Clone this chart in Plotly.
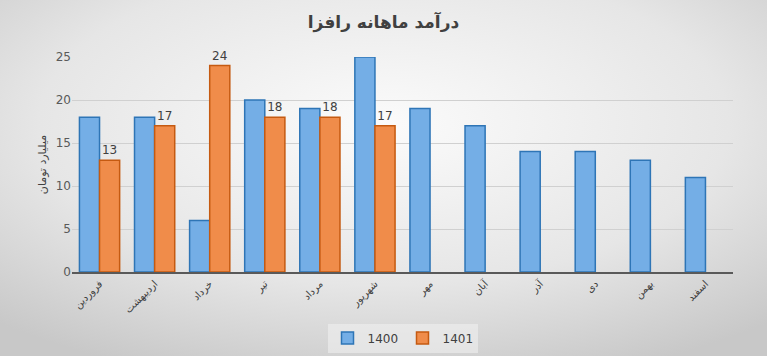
import base64
import plotly.graph_objects as go

months = ["فروردین", "اردیبهشت", "خرداد", "تیر", "مرداد", "شهریور",
          "مهر", "آبان", "آذر", "دی", "بهمن", "اسفند"]
sales_1400 = [18, 18, 6, 20, 19, 25, 19, 17, 14, 14, 13, 11]
sales_1401 = [13, 17, 24, 18, 18, 17, None, None, None, None, None, None]
labels_1401 = [str(v) if v is not None else "" for v in sales_1401]

title_text = "درآمد ماهانه رافزا"
y_title = "میلیارد تومان"
FONT = "DejaVu Sans"

svg = """<svg xmlns='http://www.w3.org/2000/svg' width='767' height='356'>
<defs><radialGradient id='g' cx='50%' cy='35%' r='75%'>
<stop offset='0%' stop-color='#fbfbfb'/><stop offset='60%' stop-color='#e6e6e6'/>
<stop offset='100%' stop-color='#c8c8c8'/></radialGradient></defs>
<rect width='767' height='356' fill='url(#g)'/></svg>"""
bg_uri = "data:image/svg+xml;base64," + base64.b64encode(svg.encode()).decode()

fig = go.Figure()
fig.add_trace(go.Bar(
    x=months, y=sales_1400, name="1400",
    marker=dict(color="#74aee6", line=dict(color="#2e75b6", width=1.5)),
))
fig.add_trace(go.Bar(
    x=months, y=sales_1401, name="1401",
    text=labels_1401, textposition="outside", cliponaxis=False,
    textfont=dict(family=FONT, size=12, color="#404040"),
    marker=dict(color="#f08c4a", line=dict(color="#c55a11", width=1.5)),
))

fig.update_layout(
    width=767, height=356,
    margin=dict(l=72, r=34, t=57, b=84, autoexpand=False),
    paper_bgcolor="#e6e6e6",
    plot_bgcolor="rgba(0,0,0,0)",
    images=[dict(source=bg_uri, xref="paper", yref="paper", x=-72/661, y=1+57/215,
                 sizex=767/661, sizey=356/215, xanchor="left", yanchor="top",
                 sizing="stretch", layer="below")],
    title=dict(text=title_text, x=0.5, xanchor="center", y=1-22/356, yanchor="middle",
               font=dict(family=FONT, size=17, color="#404040", weight="bold")),
    barmode="group", bargap=0.27, bargroupgap=0.0,
    showlegend=True,
    legend=dict(orientation="h", x=0.5, xanchor="center", y=-(338-272)/215, yanchor="middle",
                font=dict(family=FONT, size=12, color="#404040"),
                bgcolor="rgba(240,240,240,0.6)", itemwidth=30,
                entrywidth=30, entrywidthmode="pixels"),
    font=dict(family=FONT, color="#595959"),
)
fig.update_xaxes(tickangle=-45, tickfont=dict(family=FONT, size=10, color="#404040"),
                 showline=True, linecolor="#595959", linewidth=2, ticks="",
                 automargin=False)
fig.update_yaxes(range=[0, 25], dtick=5, showgrid=True, gridcolor="#d0d0d0",
                 zeroline=False, tickfont=dict(family=FONT, size=12, color="#595959"),
                 automargin=False,
                 title=dict(text=y_title, font=dict(family=FONT, size=11, color="#404040"),
                            standoff=6))

fig.write_html("out.html")
